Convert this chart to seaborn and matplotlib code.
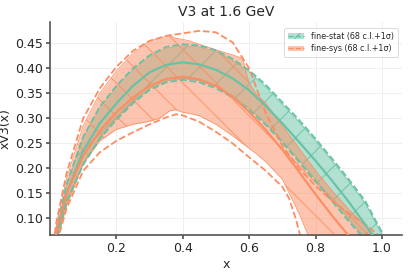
import numpy as np
import pandas as pd
import matplotlib
matplotlib.use("Agg")
import matplotlib.pyplot as plt
import seaborn as sns
from matplotlib.patches import Patch
from matplotlib.lines import Line2D

# colours (Set2)
STAT_COLOR = "#66c2a5"
SYS_COLOR = "#fc8d62"

# ---- fine-stat ----
stat_x = [0.01, 0.02, 0.05, 0.1, 0.15, 0.2, 0.25, 0.3, 0.35, 0.4, 0.45, 0.5,
          0.55, 0.6, 0.65, 0.7, 0.75, 0.8, 0.85, 0.9, 0.95, 1.0]
stat_central = [0.03, 0.07, 0.15, 0.235, 0.29, 0.33, 0.365, 0.392, 0.407, 0.412, 0.408, 0.397,
                0.38, 0.356, 0.325, 0.29, 0.253, 0.215, 0.175, 0.133, 0.087, 0.04]
stat_up68 = [0.035, 0.078, 0.165, 0.26, 0.32, 0.362, 0.397, 0.423, 0.44, 0.445, 0.443, 0.433,
             0.416, 0.393, 0.363, 0.328, 0.293, 0.255, 0.215, 0.174, 0.13, 0.068]
stat_down68 = [0.025, 0.062, 0.135, 0.21, 0.262, 0.30, 0.333, 0.36, 0.375, 0.38, 0.375, 0.363,
               0.345, 0.32, 0.29, 0.255, 0.217, 0.178, 0.138, 0.098, 0.06, 0.02]
stat_up1s = [0.036, 0.08, 0.168, 0.263, 0.323, 0.365, 0.4, 0.426, 0.443, 0.448, 0.446, 0.436,
             0.419, 0.396, 0.367, 0.332, 0.297, 0.259, 0.219, 0.178, 0.134, 0.072]
stat_down1s = [0.024, 0.06, 0.132, 0.207, 0.259, 0.297, 0.33, 0.357, 0.372, 0.377, 0.372, 0.36,
               0.342, 0.317, 0.287, 0.252, 0.213, 0.174, 0.134, 0.094, 0.056, 0.016]

# ---- fine-sys ----
sys_x = [0.01, 0.02, 0.05, 0.1, 0.15, 0.2, 0.25, 0.3, 0.35, 0.4, 0.45, 0.5,
         0.55, 0.6, 0.65, 0.7, 0.75, 0.8, 0.85, 0.9, 0.95, 1.0]
sys_central = [0.035, 0.075, 0.15, 0.225, 0.275, 0.312, 0.342, 0.365, 0.379, 0.383, 0.378, 0.365,
               0.343, 0.313, 0.277, 0.237, 0.193, 0.148, 0.105, 0.065, 0.03, 0.0]
sys_up1s = [0.05, 0.095, 0.19, 0.3, 0.36, 0.403, 0.435, 0.455, 0.465, 0.47, 0.475, 0.472,
            0.452, 0.4, 0.31, 0.245, 0.2, 0.165, 0.135, 0.11, 0.088, 0.06]

sys_up68_x = [0.01, 0.02, 0.05, 0.1, 0.15, 0.2, 0.25, 0.3, 0.33, 0.36, 0.38, 0.4, 0.42, 0.45,
              0.5, 0.55, 0.58, 0.6, 0.62, 0.65, 0.7, 0.75, 0.8, 0.85, 0.9, 0.95, 1.0]
sys_up68 = [0.045, 0.09, 0.18, 0.285, 0.35, 0.395, 0.43, 0.455, 0.46, 0.466, 0.46, 0.458, 0.455,
            0.448, 0.437, 0.427, 0.42, 0.37, 0.35, 0.33, 0.285, 0.24, 0.195, 0.155, 0.118, 0.085, 0.05]
sys_down68 = [0.02, 0.055, 0.125, 0.21, 0.255, 0.278, 0.288, 0.294, 0.3, 0.315, 0.317, 0.312, 0.31,
              0.305, 0.288, 0.265, 0.25, 0.24, 0.23, 0.213, 0.178, 0.11, 0.03, 0.0, 0.0, 0.0, 0.0]

sys_down1s_x = [0.01, 0.02, 0.05, 0.1, 0.15, 0.2, 0.25, 0.3, 0.35, 0.38, 0.4, 0.45, 0.5,
                0.55, 0.6, 0.65, 0.7, 0.72, 0.74, 0.76]
sys_down1s = [0.015, 0.05, 0.12, 0.195, 0.232, 0.255, 0.272, 0.288, 0.302, 0.308, 0.306, 0.293, 0.273,
              0.25, 0.222, 0.195, 0.163, 0.14, 0.1, 0.05]

sns.set_theme(style="whitegrid")
plt.rcParams["font.family"] = ["DejaVu Sans"]
plt.rcParams["hatch.linewidth"] = 0.7

fig = plt.figure(figsize=(4.08, 2.73), dpi=100)
ax = fig.add_axes([0.1225, 0.138, 0.8625, 0.782])

# bands: translucent fill plus a hatch overlay
ax.fill_between(stat_x, stat_down68, stat_up68, color=STAT_COLOR, alpha=0.5, linewidth=0, zorder=1)
ax.fill_between(stat_x, stat_down68, stat_up68, facecolor="none", edgecolor=STAT_COLOR,
                alpha=0.9, hatch="/", linewidth=0.6, zorder=1)
ax.fill_between(sys_up68_x, sys_down68, sys_up68, color=SYS_COLOR, alpha=0.5, linewidth=0, zorder=1)
ax.fill_between(sys_up68_x, sys_down68, sys_up68, facecolor="none", edgecolor=SYS_COLOR,
                alpha=0.9, hatch="\\", linewidth=0.6, zorder=1)

# central values
sns.lineplot(x=stat_x, y=stat_central, color=STAT_COLOR, lw=1.5, ax=ax, zorder=3)
sns.lineplot(x=sys_x, y=sys_central, color=SYS_COLOR, lw=1.5, ax=ax, zorder=3)

# 1 sigma dashed lines
for xs, ys, c in [(stat_x, stat_up1s, STAT_COLOR), (stat_x, stat_down1s, STAT_COLOR),
                  (sys_x, sys_up1s, SYS_COLOR), (sys_down1s_x, sys_down1s, SYS_COLOR)]:
    sns.lineplot(x=xs, y=ys, color=c, lw=1.3, ax=ax, zorder=2, linestyle="--")

ax.set_xlim(0.0, 1.06)
ax.set_ylim(0.066, 0.493)
ax.set_xticks([0.2, 0.4, 0.6, 0.8, 1.0])
ax.set_yticks([0.10, 0.15, 0.20, 0.25, 0.30, 0.35, 0.40, 0.45])
ax.set_yticklabels([f"{v:.2f}" for v in ax.get_yticks()])
ax.grid(True, color="#ededed", lw=0.6)
ax.set_facecolor("white")
sns.despine(ax=ax)
for s in ["left", "bottom"]:
    ax.spines[s].set_color("#555555")
    ax.spines[s].set_linewidth(1.2)
ax.tick_params(axis="both", labelsize=9, length=3, color="#555555", pad=2)
ax.tick_params(axis="x", bottom=True)
ax.tick_params(axis="y", left=True)

ax.set_title("V3 at 1.6 GeV", fontsize=10, pad=4)
ax.set_xlabel("x", fontsize=9, labelpad=2)
ax.set_ylabel("xV3(x)", fontsize=9)
ax.yaxis.set_label_coords(-0.108, 0.5)

h_stat = (Patch(facecolor=STAT_COLOR, alpha=0.5, linewidth=0),
          Patch(facecolor="none", edgecolor=STAT_COLOR, hatch="/", linewidth=0),
          Line2D([], [], color=STAT_COLOR, linestyle="--", lw=1.0))
h_sys = (Patch(facecolor=SYS_COLOR, alpha=0.5, linewidth=0),
         Patch(facecolor="none", edgecolor=SYS_COLOR, hatch="\\", linewidth=0),
         Line2D([], [], color=SYS_COLOR, linestyle="--", lw=1.0))
leg = ax.legend([h_stat, h_sys], ["fine-stat (68 c.l.+1σ)", "fine-sys (68 c.l.+1σ)"],
                loc="upper right", fontsize=5.8, frameon=True, handlelength=2.0,
                borderpad=0.5, labelspacing=0.4, bbox_to_anchor=(1.0, 0.99))
leg.get_frame().set_edgecolor("#cccccc")
leg.get_frame().set_linewidth(0.6)

fig.savefig("out.png", dpi=100)
